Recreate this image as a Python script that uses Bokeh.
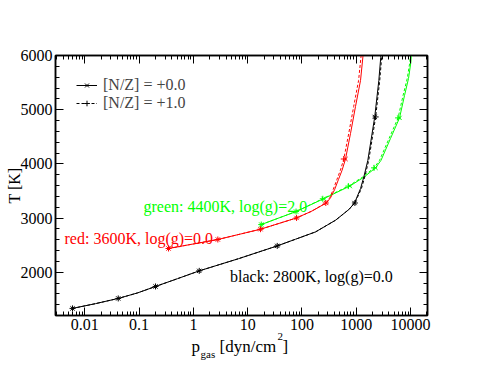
import math
from bokeh.plotting import figure
from bokeh.models import (Range1d, FixedTicker, LogAxis, LinearAxis, Label,
                          Legend, LegendItem, CustomJSTickFormatter)
from bokeh.embed import file_html
from bokeh.resources import INLINE

# ---------------- data ----------------
# black: 2800K, log(g)=0.0
black_p0 = [0.00593, 0.01575, 0.04123, 0.0935, 0.2007, 0.510, 1.281, 6.79, 35.05,
            76.1, 177.9, 415.7, 730.6, 930, 1200, 1380, 1636, 2192, 2608, 2827, 2900]
black_T0 = [1331, 1419, 1515, 1617, 1736, 1880, 2024, 2249, 2485,
            2608, 2743, 2959, 3156, 3277, 3543, 3757, 4065, 4866, 5539, 5963, 6184]
black_p1 = [0.00593, 0.01575, 0.04123, 0.0935, 0.2007, 0.510, 1.281, 6.79, 35.05,
            76.1, 177.9, 415.7, 730.6, 945, 1245, 1435, 1700, 2280, 2710, 2940, 3010]
black_T1 = [1331, 1419, 1515, 1617, 1736, 1880, 2024, 2249, 2485,
            2608, 2743, 2959, 3156, 3277, 3543, 3757, 4065, 4866, 5539, 5963, 6184]
black_marks = [0, 2, 4, 6, 8, 13, 17]

# red: 3600K, log(g)=0.0
red_p0 = [0.3483, 2.82, 17.25, 79.5, 150, 280, 336, 398.4, 472, 547.5, 635,
          785, 970.7, 1200, 1335, 1375]
red_T0 = [2437, 2603, 2793, 3001, 3124, 3277, 3373, 3521, 3714, 3880, 4089,
          4562, 5060, 5539, 6000, 6184]
red_p1 = [0.3483, 2.82, 17.25, 79.5, 150, 275, 325, 375, 442, 510, 590,
          728, 898, 1105, 1230, 1268]
red_T1 = [2437, 2603, 2793, 3001, 3124, 3277, 3373, 3521, 3714, 3880, 4089,
          4562, 5060, 5539, 6000, 6184]
red_marks = [0, 1, 2, 3, 5, 10]

# green: 4400K, log(g)=2.0
green_p0 = [17.78, 77.8, 249.8, 762, 1392, 2268, 2863, 4285, 6278, 7760, 9194,
            10136, 10350, 10530]
green_T0 = [2879, 3119, 3355, 3589, 3755, 3926, 4065, 4470, 4848, 5263, 5576,
            5871, 6000, 6184]
green_p1 = [17.78, 77.8, 242, 716, 1310, 2130, 2690, 4030, 5900, 7300, 8700,
            9700, 9940, 10110]
green_T1 = [2879, 3119, 3355, 3589, 3755, 3926, 4065, 4470, 4848, 5263, 5576,
            5871, 6000, 6184]
green_marks = [0, 1, 2, 3, 5, 8]

legend_labels = ["[N/Z] = +0.0", "[N/Z] = +1.0"]
series_labels = ["green: 4400K, log(g)=2.0", "red: 3600K, log(g)=0.0",
                 "black: 2800K, log(g)=0.0"]

x_ticks = [0.01, 0.1, 1, 10, 100, 1000, 10000]
x_tick_labels = ["0.01", "0.1", "1", "10", "100", "1000", "10000"]
y_ticks = [2000, 3000, 4000, 5000, 6000]
y_tick_labels = ["2000", "3000", "4000", "5000", "6000"]

# ---------------- layout ----------------
FONT = "Liberation Serif"
W, H = 478, 366
FL, FT, FW, FH = 55, 55, 372, 260
X0, X1 = 0.00288, 20560
Y0, Y1 = 1200, 6000
GREEN, RED, BLACK = "#00ff00", "#ff0000", "#000000"


def fx(px_):
    lo, hi = math.log10(X0), math.log10(X1)
    return 10 ** (lo + (px_ - FL) / FW * (hi - lo))


def fy(py_):
    return Y1 - (py_ - FT) / FH * (Y1 - Y0)


p = figure(width=W, height=H, x_axis_type="log",
           x_range=Range1d(X0, X1), y_range=Range1d(Y0, Y1),
           output_backend="svg", toolbar_location=None,
           min_border_left=FL, min_border_top=FT,
           min_border_right=W - FL - FW, min_border_bottom=H - FT - FH)
p.xgrid.visible = False
p.ygrid.visible = False
p.outline_line_color = BLACK
p.outline_line_width = 1.5
p.background_fill_color = "white"
p.border_fill_color = "white"

x_minor = [m * 10 ** k for k in range(-3, 5) for m in range(2, 10)]
y_minor = list(range(1200, 6001, 200))
xt = FixedTicker(ticks=x_ticks, minor_ticks=x_minor)
yt = FixedTicker(ticks=y_ticks, minor_ticks=y_minor)

LOOKUP = """
for (let i = 0; i < tv.length; i++) {
  if (Math.abs(tick - tv[i]) <= 1e-6 * Math.abs(tv[i])) return tl[i]
}
return ''
"""


def style(ax, tvals, tlabs):
    ax.major_tick_in = 8
    ax.major_tick_out = 0
    ax.minor_tick_in = 4
    ax.minor_tick_out = 0
    ax.axis_line_color = BLACK
    ax.axis_line_width = 1.5
    ax.major_tick_line_color = BLACK
    ax.minor_tick_line_color = BLACK
    ax.major_label_text_font = FONT
    ax.major_label_text_font_size = "16px"
    ax.major_label_text_color = BLACK
    ax.major_label_standoff = 3
    ax.formatter = CustomJSTickFormatter(args=dict(tv=tvals, tl=tlabs),
                                         code=LOOKUP)


p.xaxis[0].ticker = xt
p.yaxis[0].ticker = yt
style(p.xaxis[0], x_ticks, x_tick_labels)
style(p.yaxis[0], y_ticks, y_tick_labels)
p.yaxis[0].axis_label = "T [K]"
p.yaxis[0].axis_label_text_font = FONT
p.yaxis[0].axis_label_text_font_size = "16px"
p.yaxis[0].axis_label_text_font_style = "normal"
p.yaxis[0].axis_label_text_color = BLACK
p.yaxis[0].axis_label_standoff = -5

top = LogAxis(ticker=xt)
style(top, [], [])
p.add_layout(top, "above")
right = LinearAxis(ticker=yt)
style(right, [], [])
p.add_layout(right, "right")

# ---------------- curves ----------------
def series(px0, T0, px1, T1, marks, color):
    l0 = p.line(px0, T0, line_color=color, line_width=1)
    s0 = p.scatter([px0[i] for i in marks], [T0[i] for i in marks], marker="x",
                   size=6, line_color=color, line_width=1)
    l1 = p.line(px1, T1, line_color=color, line_width=1, line_dash="3 2")
    s1 = p.scatter([px1[i] for i in marks], [T1[i] for i in marks], marker="cross",
                   size=6, line_color=color, line_width=1)
    return l0, s0, l1, s1

series(green_p0, green_T0, green_p1, green_T1, green_marks, GREEN)
series(red_p0, red_T0, red_p1, red_T1, red_marks, RED)
bl0, bs0, bl1, bs1 = series(black_p0, black_T0, black_p1, black_T1, black_marks, BLACK)

legend = Legend(items=[LegendItem(label=legend_labels[0], renderers=[bl0, bs0]),
                       LegendItem(label=legend_labels[1], renderers=[bl1, bs1])],
                location="top_left", margin=11, padding=10, spacing=-4,
                glyph_width=21, glyph_height=14, label_height=14, label_standoff=6,
                label_text_font=FONT, label_text_font_size="16px",
                border_line_alpha=0, background_fill_alpha=0)
p.add_layout(legend)

# series captions (inside the frame)
for txt, col, px_, py_ in [(series_labels[0], GREEN, 143, 206),
                           (series_labels[1], RED, 64, 238),
                           (series_labels[2], BLACK, 229.5, 276)]:
    p.add_layout(Label(x=fx(px_), y=fy(py_), text=txt, text_color=col,
                       text_font=FONT, text_font_size="16px",
                       text_baseline="alphabetic", text_align="left"))

# x axis title, pieces placed in the side panels (outside the frame)
for txt, px_, py_, fs, side in [("[dyn/cm", 219, 346, "17px", "below"),
                                ("2", 277, 336, "11px", "above"),
                                ("p", 191, 346, "17px", "right"),
                                ("gas", 200, 353, "11px", "right"),
                                ("]", 282, 346, "17px", "right")]:
    p.add_layout(Label(x=fx(px_), y=fy(py_), text=txt, text_font=FONT,
                       text_font_size=fs, text_color=BLACK,
                       text_align="left", text_baseline="alphabetic"), side)

open("out.html", "w").write(file_html(p, INLINE))
